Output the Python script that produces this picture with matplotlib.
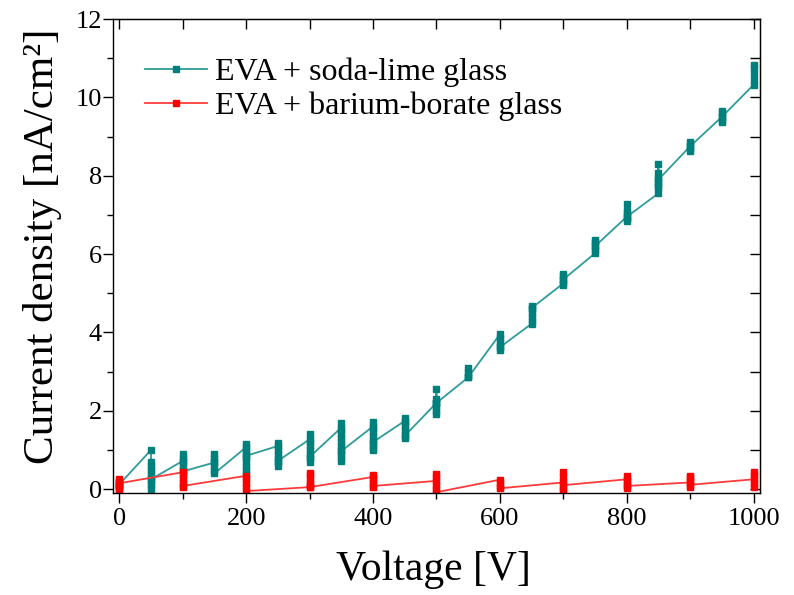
import matplotlib
matplotlib.use("Agg")
import matplotlib.pyplot as plt
from matplotlib.ticker import MultipleLocator

plt.rcParams['font.family'] = ['Liberation Serif', 'DejaVu Serif']

# Repeated readings at each voltage, in measurement order
soda_volts = [0, 50, 100, 150, 200, 250, 300, 350, 400, 450, 500,
              550, 600, 650, 700, 750, 800, 850, 900, 950, 1000]
soda_reads = [
    [0.0, 0.08, 0.15, 0.12],
    [1.0, 0.7, 0.6, 0.5, 0.4, 0.3, 0.2, 0.1, 0.0, 0.25],
    [0.72, 0.9, 0.8, 0.7, 0.6, 0.5, 0.45],
    [0.68, 0.9, 0.8, 0.7, 0.6, 0.5, 0.4],
    [1.07, 1.15, 1.0, 0.9, 0.8, 0.7, 0.6, 0.5, 0.4, 0.85],
    [1.1, 1.18, 1.0, 0.9, 0.8, 0.7, 0.6, 0.72],
    [1.27, 1.4, 1.2, 1.1, 1.0, 0.9, 0.8, 0.7, 0.82],
    [1.57, 1.68, 1.5, 1.4, 1.3, 1.2, 1.1, 1.0, 0.9, 0.8, 0.72, 0.97],
    [1.6, 1.72, 1.55, 1.45, 1.35, 1.25, 1.15, 1.05, 1.0, 1.2],
    [1.74, 1.82, 1.7, 1.6, 1.5, 1.4, 1.3, 1.36],
    [2.2, 2.55, 2.3, 2.2, 2.1, 2.0, 1.92, 2.2],
    [2.85, 3.1, 3.0, 2.9, 2.85],
    [3.95, 3.85, 3.75, 3.65, 3.55, 3.62],
    [4.22, 4.3, 4.4, 4.5, 4.6, 4.68, 4.62],
    [5.25, 5.35, 5.45, 5.5, 5.2, 5.35],
    [6.02, 6.1, 6.2, 6.3, 6.35, 6.2],
    [6.95, 7.05, 7.28, 7.1, 6.9, 6.85, 6.95],
    [7.55, 7.7, 7.85, 8.08, 8.3, 7.95, 7.75, 7.9],
    [8.75, 8.85, 8.7, 8.62, 8.75],
    [9.5, 9.65, 9.6, 9.4, 9.38, 9.5],
    [10.32, 10.45, 10.6, 10.75, 10.82],
]

barium_volts = [0, 100, 200, 300, 400, 500, 600, 700, 800, 900, 1000]
barium_reads = [
    [0.0, 0.1, 0.2, 0.25, 0.05, 0.15],
    [0.43, 0.35, 0.25, 0.15, 0.05, 0.08],
    [0.34, 0.25, 0.15, 0.05, -0.05],
    [0.05, 0.15, 0.25, 0.35, 0.4, 0.1, 0.05],
    [0.31, 0.35, 0.25, 0.15, 0.05, 0.08],
    [0.21, 0.3, 0.38, 0.1, 0.0, -0.08],
    [0.24, 0.15, 0.05, 0.02],
    [0.17, 0.3, 0.43, 0.0, -0.05, 0.1],
    [0.25, 0.33, 0.2, 0.1, 0.03, 0.08],
    [0.17, 0.3, 0.34, 0.2, 0.05, 0.11],
    [0.25, 0.35, 0.43, 0.15, 0.05],
]


def flatten(volts, reads):
    xs, ys = [], []
    for v, r in zip(volts, reads):
        xs += [v] * len(r)
        ys += r
    return xs, ys


sx, sy = flatten(soda_volts, soda_reads)
bx, by = flatten(barium_volts, barium_reads)

fig = plt.figure(figsize=(7.94, 5.95), dpi=100)
ax = fig.add_axes([0.1423, 0.1714, 0.8147, 0.7966])

ax.plot(sx, sy, color='#2e9c9a', lw=1.3, marker='s', ms=3.8,
        mfc='#00807d', mec='#00807d', label='EVA + soda-lime glass')
ax.plot(bx, by, color='#ff3b3b', lw=1.3, marker='s', ms=4.4,
        mfc='#ff0000', mec='#ff0000', label='EVA + barium-borate glass')

ax.set_xlim(-10, 1010)
ax.set_ylim(-0.1, 12)
ax.xaxis.set_major_locator(MultipleLocator(200))
ax.xaxis.set_minor_locator(MultipleLocator(100))
ax.yaxis.set_major_locator(MultipleLocator(2))
ax.yaxis.set_minor_locator(MultipleLocator(1))

ax.tick_params(which='both', direction='out', width=1.0, labelsize=19)
ax.tick_params(which='major', length=7)
ax.tick_params(which='minor', length=4)
ax.tick_params(axis='x', which='major', pad=4)
ax.tick_params(axis='y', which='major', pad=1)

# mirrored ticks pointing inward on top and right
top = ax.secondary_xaxis('top')
top.xaxis.set_major_locator(MultipleLocator(200))
top.xaxis.set_minor_locator(MultipleLocator(100))
top.tick_params(which='both', direction='in', labeltop=False, width=1.0)
top.tick_params(which='major', length=7)
top.tick_params(which='minor', length=7)
right = ax.secondary_yaxis('right')
right.yaxis.set_major_locator(MultipleLocator(2))
right.yaxis.set_minor_locator(MultipleLocator(1))
right.tick_params(which='both', direction='in', labelright=False, width=1.0)
right.tick_params(which='major', length=7)
right.tick_params(which='minor', length=7)

for s in ax.spines.values():
    s.set_linewidth(1.0)

ax.set_xlabel('Voltage [V]', fontsize=30)
ax.set_ylabel('Current density [nA/cm²]', fontsize=31)
ax.xaxis.set_label_coords(0.495, -0.122)
ax.yaxis.set_label_coords(-0.079, 0.52)

ax.legend(loc='upper left', bbox_to_anchor=(0.049, 0.918), frameon=False,
          fontsize=23, handlelength=1.95, handletextpad=0.25,
          labelspacing=0.12, borderpad=0, borderaxespad=0, numpoints=1)

fig.savefig('out.png', dpi=100)
